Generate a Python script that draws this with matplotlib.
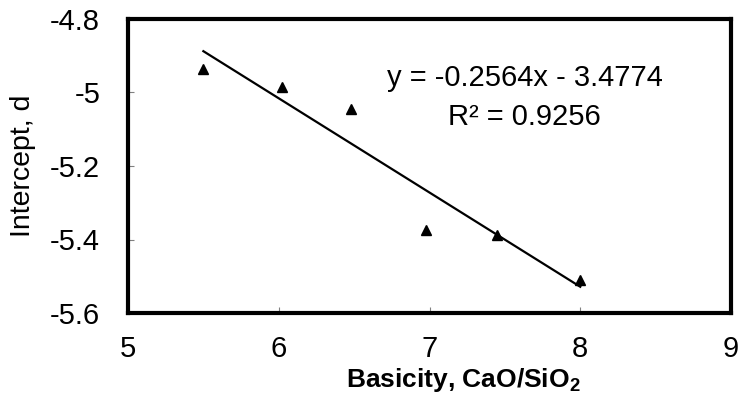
import matplotlib
matplotlib.use("Agg")
import matplotlib.pyplot as plt
import numpy as np

plt.rcParams['font.family'] = ['Liberation Sans', 'DejaVu Sans']
plt.rcParams['mathtext.fontset'] = 'custom'
plt.rcParams['mathtext.rm'] = 'Liberation Sans'
plt.rcParams['mathtext.bf'] = 'Liberation Sans:bold'

# Data
basicity = [5.50, 6.02, 6.48, 6.98, 7.45, 8.00]
intercept_d = [-4.935, -4.984, -5.046, -5.373, -5.389, -5.511]
fit_slope = -0.2564
fit_const = -3.4774
fit_r2 = 0.9256
x_ticks = [5, 6, 7, 8, 9]
y_ticks = [-5.6, -5.4, -5.2, -5.0, -4.8]
y_tick_labels = ['-5.6', '-5.4', '-5.2', '-5', '-4.8']

fig = plt.figure(figsize=(7.39, 4.0), dpi=100)
W, H = 739, 400
ax = fig.add_axes([128 / W, 1 - 313 / H, (731 - 128) / W, (313 - 19) / H])

ax.plot(basicity, intercept_d, linestyle='none', marker='^', color='black',
        markersize=6.8, zorder=3)

xf = np.array([min(basicity), max(basicity)])
ax.plot(xf, fit_slope * xf + fit_const, color='black', linewidth=1.6, zorder=2)

ax.text(0.658, 0.80, f'y = {fit_slope:.4f}x - {abs(fit_const):.4f}',
        transform=ax.transAxes, ha='center', va='center', fontsize=21)
ax.text(0.658, 0.667, f'R² = {fit_r2:.4f}',
        transform=ax.transAxes, ha='center', va='center', fontsize=21)

ax.set_xlim(5, 9)
ax.set_ylim(-5.6, -4.8)
ax.set_xticks(x_ticks)
ax.set_xticklabels([str(t) for t in x_ticks])
ax.set_yticks(y_ticks)
ax.set_yticklabels(y_tick_labels)

for s in ax.spines.values():
    s.set_linewidth(3)
    s.set_color('black')

ax.tick_params(axis='both', direction='in', length=4, width=0.8, color='#808080',
               labelsize=21)
ax.tick_params(axis='x', pad=16)
ax.tick_params(axis='y', pad=20)

ax.set_ylabel('Intercept, d', fontsize=20.5)
ax.yaxis.set_label_coords(-0.153, 0.5)
ax.set_xlabel(r'Basicity, CaO/SiO$_\mathbf{2}$', fontsize=19, fontweight='bold')
ax.xaxis.set_label_coords(0.556, -0.18)

fig.savefig('out.png', dpi=100)
